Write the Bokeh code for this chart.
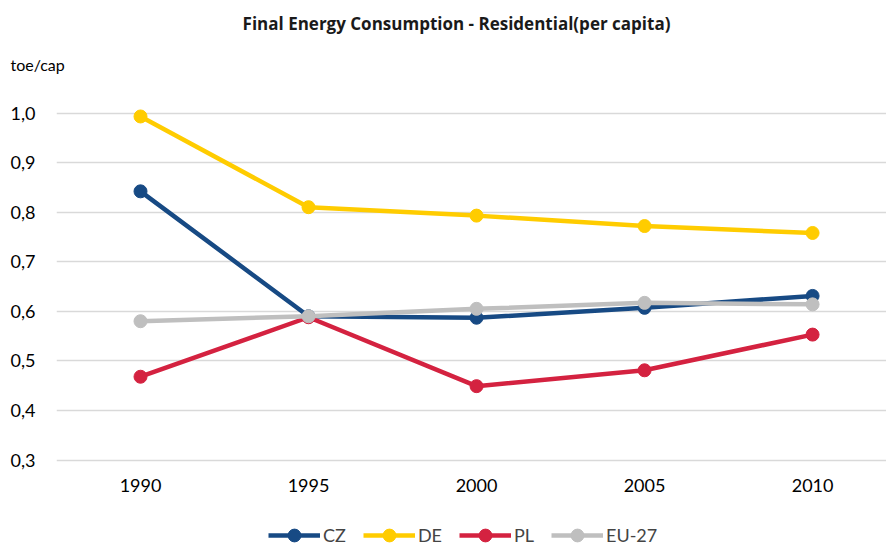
from bokeh.plotting import figure
from bokeh.layouts import column
from bokeh.models import Label, FixedTicker, Legend, LegendItem, CustomJSTickFormatter
from bokeh.embed import file_html
from bokeh.resources import INLINE

years = [1990, 1995, 2000, 2005, 2010]
cz = [0.842, 0.590, 0.587, 0.607, 0.631]
de = [0.993, 0.810, 0.793, 0.772, 0.758]
pl = [0.468, 0.588, 0.449, 0.481, 0.553]
eu27 = [0.580, 0.590, 0.605, 0.617, 0.614]
series_names = ["CZ", "DE", "PL", "EU-27"]
series_colors = ["#174a84", "#ffcc00", "#d42240", "#bfbfbf"]
y_ticks = [0.3, 0.4, 0.5, 0.6, 0.7, 0.8, 0.9, 1.0]
title_text = "Final Energy Consumption - Residential(per capita)"
unit_text = "toe/cap"

W = 886

def bare(height):
    f = figure(width=W, height=height, x_range=(0, W), y_range=(0, height),
               x_axis_type=None, y_axis_type=None, output_backend="svg",
               toolbar_location=None, min_border=0, frame_align=False)
    f.outline_line_color = None
    f.xgrid.visible = False
    f.ygrid.visible = False
    return f

# header: title and unit
head = bare(78)
head.add_layout(Label(x=456, y=55, x_units="screen", y_units="screen", text=title_text,
                      text_font="Open Sans", text_font_style="bold", text_font_size="17px",
                      text_align="center", text_baseline="middle", text_color="#1a1a1a"))
head.add_layout(Label(x=10, y=14, x_units="screen", y_units="screen", text=unit_text,
                      text_font="Lato", text_font_size="16px", text_align="left",
                      text_baseline="middle", text_color="#000000"))

# main plot
p = figure(width=W, height=432, x_range=(1987.5, 2012.2), y_range=(0.295, 1.0696),
           output_backend="svg", toolbar_location=None, frame_align=False,
           min_border_left=56, min_border_right=0, min_border_top=0, min_border_bottom=48)
p.outline_line_color = None
p.xgrid.grid_line_color = None
p.ygrid.grid_line_color = "#d9d9d9"
p.ygrid.grid_line_width = 1.5
p.ygrid.ticker = FixedTicker(ticks=y_ticks)
p.yaxis.ticker = FixedTicker(ticks=y_ticks)
p.yaxis.formatter = CustomJSTickFormatter(code="return tick.toFixed(1).replace('.', ',');")
p.xaxis.ticker = FixedTicker(ticks=years)
for ax in (p.xaxis, p.yaxis):
    ax.axis_line_color = None
    ax.major_tick_line_color = None
    ax.minor_tick_line_color = None
    ax.major_label_text_font = "Lato"
    ax.major_label_text_font_size = "18px"
    ax.major_label_text_color = "#000000"
p.yaxis.major_label_standoff = 15
p.xaxis.major_label_standoff = 10

series = [cz, de, pl, eu27]
for name, vals, col in zip(series_names, series, series_colors):
    p.line(years, vals, line_color=col, line_width=4.5)
    p.scatter(years, vals, size=13, fill_color=col, line_color=col)

# legend strip (its renderers hold the same series, which fall outside this strip's ranges)
leg = bare(35)
items = []
for name, vals, col in zip(series_names, series, series_colors):
    r1 = leg.line(years, vals, line_color=col, line_width=4.5)
    r2 = leg.scatter(years, vals, size=13, fill_color=col, line_color=col)
    items.append(LegendItem(label=name, renderers=[r1, r2]))
legend = Legend(items=items, orientation="horizontal", location=(268, -6),
                label_text_font="Lato", label_text_font_size="18px",
                glyph_width=52, glyph_height=32, label_standoff=3, spacing=17,
                padding=0, margin=0, border_line_color=None, background_fill_alpha=0)
leg.add_layout(legend, "center")

layout = column(head, p, leg, spacing=0)
open("out.html", "w").write(file_html(layout, INLINE))
